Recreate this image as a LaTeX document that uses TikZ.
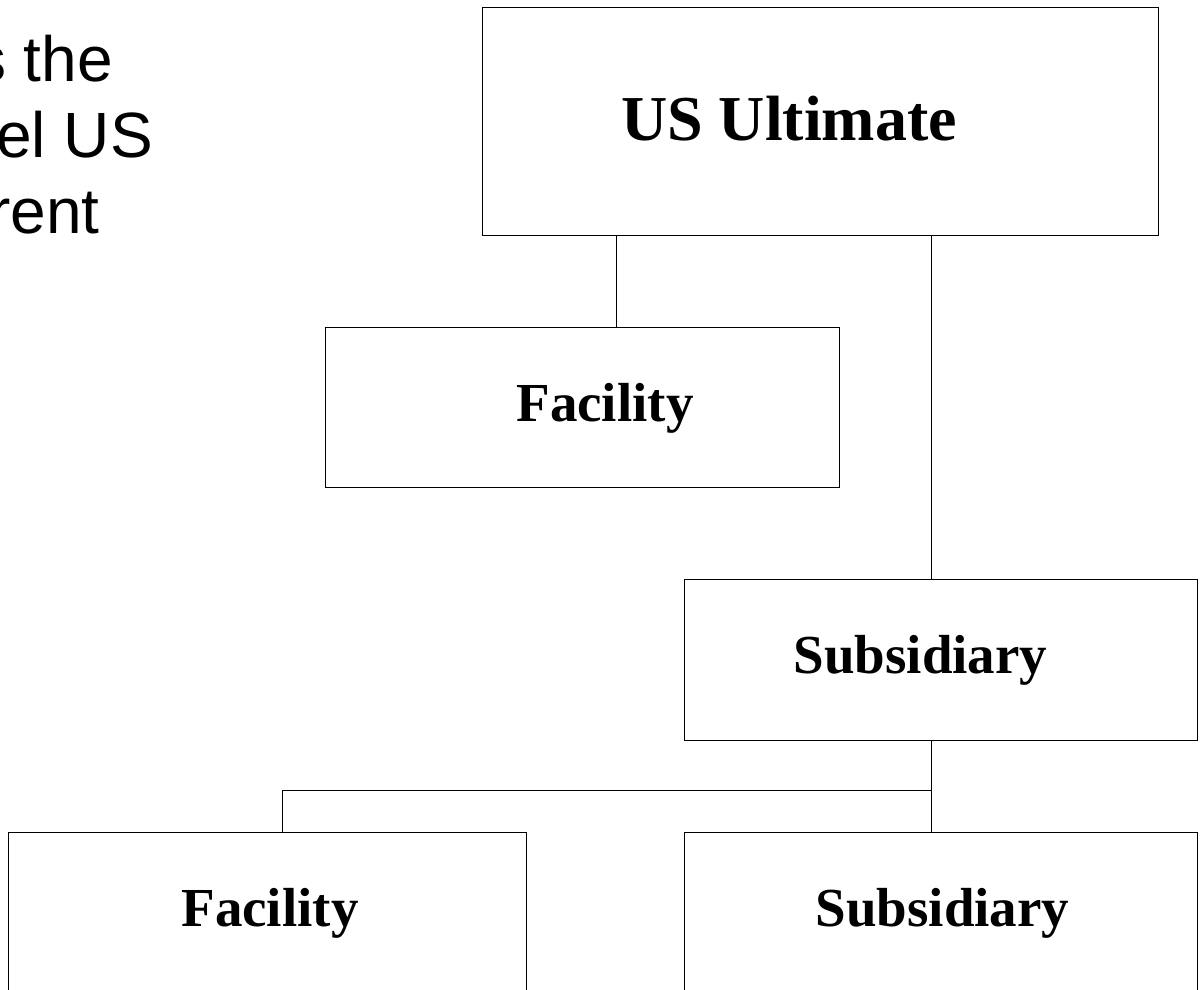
\documentclass[tikz,border=0pt]{standalone}
\usepackage{fontspec}
\setmainfont{Liberation Serif}
\setsansfont{Liberation Sans}
\usepackage{tikz}

\begin{document}
\begin{tikzpicture}[x=1pt,y=1pt,
		orgbox/.style={draw,line width=1pt,inner sep=0pt},
		boxtext/.style={inner sep=0pt,font=\bfseries\fontsize{55}{60}\selectfont},
		note/.style={anchor=base east,inner sep=0pt,font=\sffamily\fontsize{64}{76}\selectfont}]
		
			\useasboundingbox (0,0) rectangle (1200,990);
		
			\node[note] (t1) at (113,908) {s the};
			\node[note] (t2) at (153,832) {el US};
			\node[note] (t3) at (100,756) {rent};
			
			\node[orgbox,minimum width=676pt,minimum height=228pt,
				label={[boxtext,font=\bfseries\fontsize{64}{70}\selectfont,xshift=-31pt,yshift=3pt]center:US Ultimate}] (ult) at (820,868) {};
			
			\node[orgbox,minimum width=514pt,minimum height=160pt,
				label={[boxtext,xshift=23pt]center:Facility}] (fac) at (582,582) {};
			\node[orgbox,minimum width=513pt,minimum height=161pt,
				label={[boxtext,xshift=-20pt]center:Subsidiary}] (sub) at (940.5,329.5) {};
			
			\node[orgbox,minimum width=518pt,minimum height=160pt,
				label={[boxtext,xshift=3pt]center:Facility}] (facb) at (267,77) {};
			\node[orgbox,minimum width=513pt,minimum height=160pt,
				label={[boxtext,xshift=2pt]center:Subsidiary}] (subb) at (940.5,77) {};
			
			\draw[line width=1pt] ([xshift=34pt]fac.north) -- ([xshift=34pt]fac.north |- ult.south)
			([xshift=-9.5pt]sub.north) -- ([xshift=-9.5pt]sub.north |- ult.south)
			([xshift=-9.5pt]sub.south) -- ([xshift=-9.5pt]subb.north)
			([xshift=-9.5pt]sub.south) ++(0,-49) -| ([xshift=15pt]facb.north);
			
		\end{tikzpicture}
\end{document}
